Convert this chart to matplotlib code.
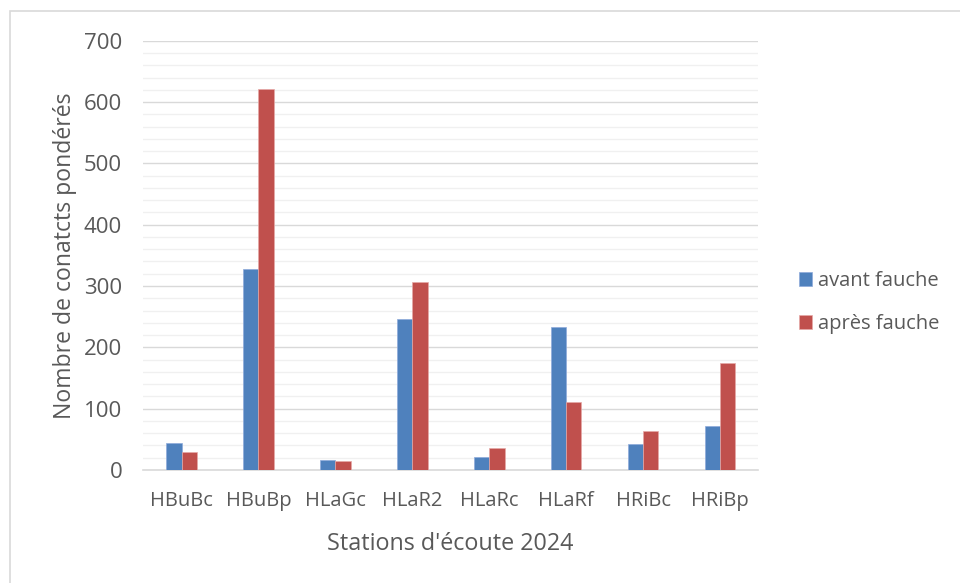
import matplotlib.pyplot as plt
import matplotlib.patches as mpatches
import numpy as np

# stations and weighted contacts before / after mowing
stations = ['HBuBc', 'HBuBp', 'HLaGc', 'HLaR2', 'HLaRc', 'HLaRf', 'HRiBc', 'HRiBp']
avant = [44, 327, 16, 246, 21, 233, 42, 72]
apres = [30, 622, 15, 307, 35, 110, 63, 175]

plt.rcParams['font.family'] = ['Open Sans', 'DejaVu Sans']
txt = '#595959'

fig = plt.figure(figsize=(9.6, 5.83), dpi=100)
ax = fig.add_axes([0.149, 0.194, 0.641, 0.736])

# thin frame around the chart area
fig.patches.append(mpatches.Rectangle((10 / 960, -0.1), 1.2, 1 - 11 / 583 + 0.1,
                                      transform=fig.transFigure, fill=False,
                                      edgecolor='#d9d9d9', linewidth=1.2))

x = np.arange(len(stations))
w = 0.2
ax.bar(x - w / 2, avant, w, color='#4f81bd', edgecolor='#8eaadb', linewidth=0.5,
       label='avant fauche', zorder=3)
ax.bar(x + w / 2, apres, w, color='#c0504d', edgecolor='#e6a9a7', linewidth=0.5,
       label='après fauche', zorder=3)

ax.set_xlim(-0.5, len(stations) - 0.5)
ax.set_ylim(0, 700)
ax.set_yticks(range(0, 701, 100))
ax.set_yticks(range(0, 701, 20), minor=True)
ax.set_xticks(x)
ax.set_xticklabels(stations)

ax.grid(axis='y', which='major', color='#d9d9d9', linewidth=1.0, zorder=0)
ax.grid(axis='y', which='minor', color='#f0f0f0', linewidth=1.0, zorder=0)
ax.set_axisbelow(True)

for s in ['top', 'right', 'left']:
    ax.spines[s].set_visible(False)
ax.spines['bottom'].set_color('#d9d9d9')
ax.spines['bottom'].set_linewidth(1.2)

ax.tick_params(axis='both', which='both', length=0, colors=txt)
ax.tick_params(axis='y', labelsize=16, pad=15)
ax.tick_params(axis='x', labelsize=14.5, pad=15)

ax.set_ylabel('Nombre de conatcts pondérés', color=txt, fontsize=16.6, labelpad=5)
ax.set_xlabel("Stations d'écoute 2024", color=txt, fontsize=16.8, labelpad=15)

leg = fig.legend(loc='center left', bbox_to_anchor=(0.824, 0.481), frameon=False,
                 fontsize=14.5, handlelength=0.65, handleheight=0.65, handletextpad=0.3,
                 labelspacing=1.15, borderaxespad=0)
for t in leg.get_texts():
    t.set_color(txt)

fig.savefig('out.png', dpi=100)
